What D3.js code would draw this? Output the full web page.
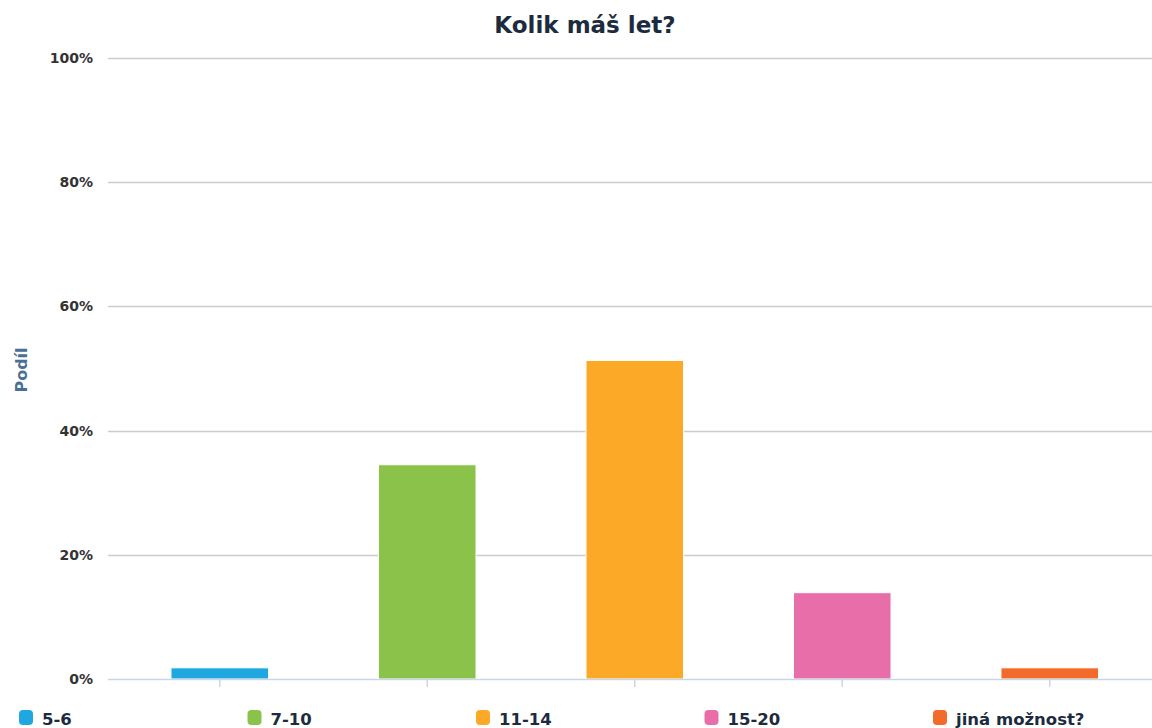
<!DOCTYPE html>
<html lang="cs">
<head>
<meta charset="UTF-8">
<title>Kolik máš let?</title>
<script src="https://d3js.org/d3.v7.min.js"></script>
<style>
    body { margin: 0; padding: 0; background: #fff; }
    svg { display: block; }
    text { font-family: "DejaVu Sans", sans-serif; }
</style>
</head>
<body>
<svg id="chart" width="1152" height="728"></svg>
<script>
    // data
    const categories = ["5-6", "7-10", "11-14", "15-20", "jiná možnost?"];
    const shares = [1.8, 34.5, 51.3, 13.9, 1.8];
    const colors = ["#1fa8e0", "#8bc34a", "#fba926", "#e76ea9", "#f26b2a"];
    const yTicks = [0, 20, 40, 60, 80, 100];

    const svg = d3.select("#chart");
    const width = 1152, height = 728;
    const margin = { top: 58, right: 0, bottom: 49, left: 108 };

    const x = d3.scaleBand()
        .domain(categories)
        .range([116, 1153.5])
        .paddingInner(0.53)
        .paddingOuter(0.265);

    const y = d3.scaleLinear()
        .domain([0, 100])
        .range([height - margin.bottom, margin.top]);

    // title
    svg.append("text")
        .attr("x", 585).attr("y", 33)
        .attr("text-anchor", "middle")
        .attr("font-size", 23).attr("font-weight", "bold")
        .attr("fill", "#1d2b3e")
        .text("Kolik máš let?");

    // grid lines
    svg.append("g")
        .selectAll("line")
        .data(yTicks.filter(d => d > 0))
        .enter().append("line")
        .attr("x1", margin.left).attr("x2", width)
        .attr("y1", d => Math.round(y(d)) + 0.5)
        .attr("y2", d => Math.round(y(d)) + 0.5)
        .attr("stroke", "#cccccc").attr("stroke-width", 1.5);

    // y tick labels
    svg.append("g")
        .selectAll("text")
        .data(yTicks)
        .enter().append("text")
        .attr("x", 93)
        .attr("y", d => y(d) + 5)
        .attr("text-anchor", "end")
        .attr("font-size", 14).attr("font-weight", "bold")
        .attr("fill", "#333")
        .text(d => d + "%");

    // y axis title
    svg.append("text")
        .attr("transform", "translate(27,370) rotate(-90)")
        .attr("text-anchor", "middle")
        .attr("font-size", 16).attr("font-weight", "bold")
        .attr("fill", "#4a6f96")
        .text("Podíl");

    // bars
    svg.append("g")
        .selectAll("rect")
        .data(categories)
        .enter().append("rect")
        .attr("x", d => x(d))
        .attr("width", x.bandwidth())
        .attr("y", (d, i) => y(shares[i]))
        .attr("height", (d, i) => y(0) - y(shares[i]))
        .attr("fill", (d, i) => colors[i])
        .attr("stroke", "#ffffff").attr("stroke-width", 1);

    // x axis baseline + ticks
    svg.append("line")
        .attr("x1", margin.left).attr("x2", width)
        .attr("y1", y(0) + 0.5).attr("y2", y(0) + 0.5)
        .attr("stroke", "#c8d6e6").attr("stroke-width", 1.5);

    svg.append("g")
        .selectAll("line")
        .data(categories)
        .enter().append("line")
        .attr("x1", d => x(d) + x.bandwidth() / 2)
        .attr("x2", d => x(d) + x.bandwidth() / 2)
        .attr("y1", y(0)).attr("y2", y(0) + 8)
        .attr("stroke", "#c8d6e6").attr("stroke-width", 1.5);

    // legend
    const legend = svg.append("g")
        .selectAll("g")
        .data(categories)
        .enter().append("g")
        .attr("transform", (d, i) => `translate(${19 + i * 228.5},710)`);

    legend.append("rect")
        .attr("width", 14).attr("height", 15)
        .attr("rx", 4).attr("ry", 4)
        .attr("fill", (d, i) => colors[i]);

    legend.append("text")
        .attr("x", 23).attr("y", 14.5)
        .attr("font-size", 16.5).attr("font-weight", "bold")
        .attr("fill", "#1d2b3e")
        .text(d => d);
</script>
</body>
</html>
